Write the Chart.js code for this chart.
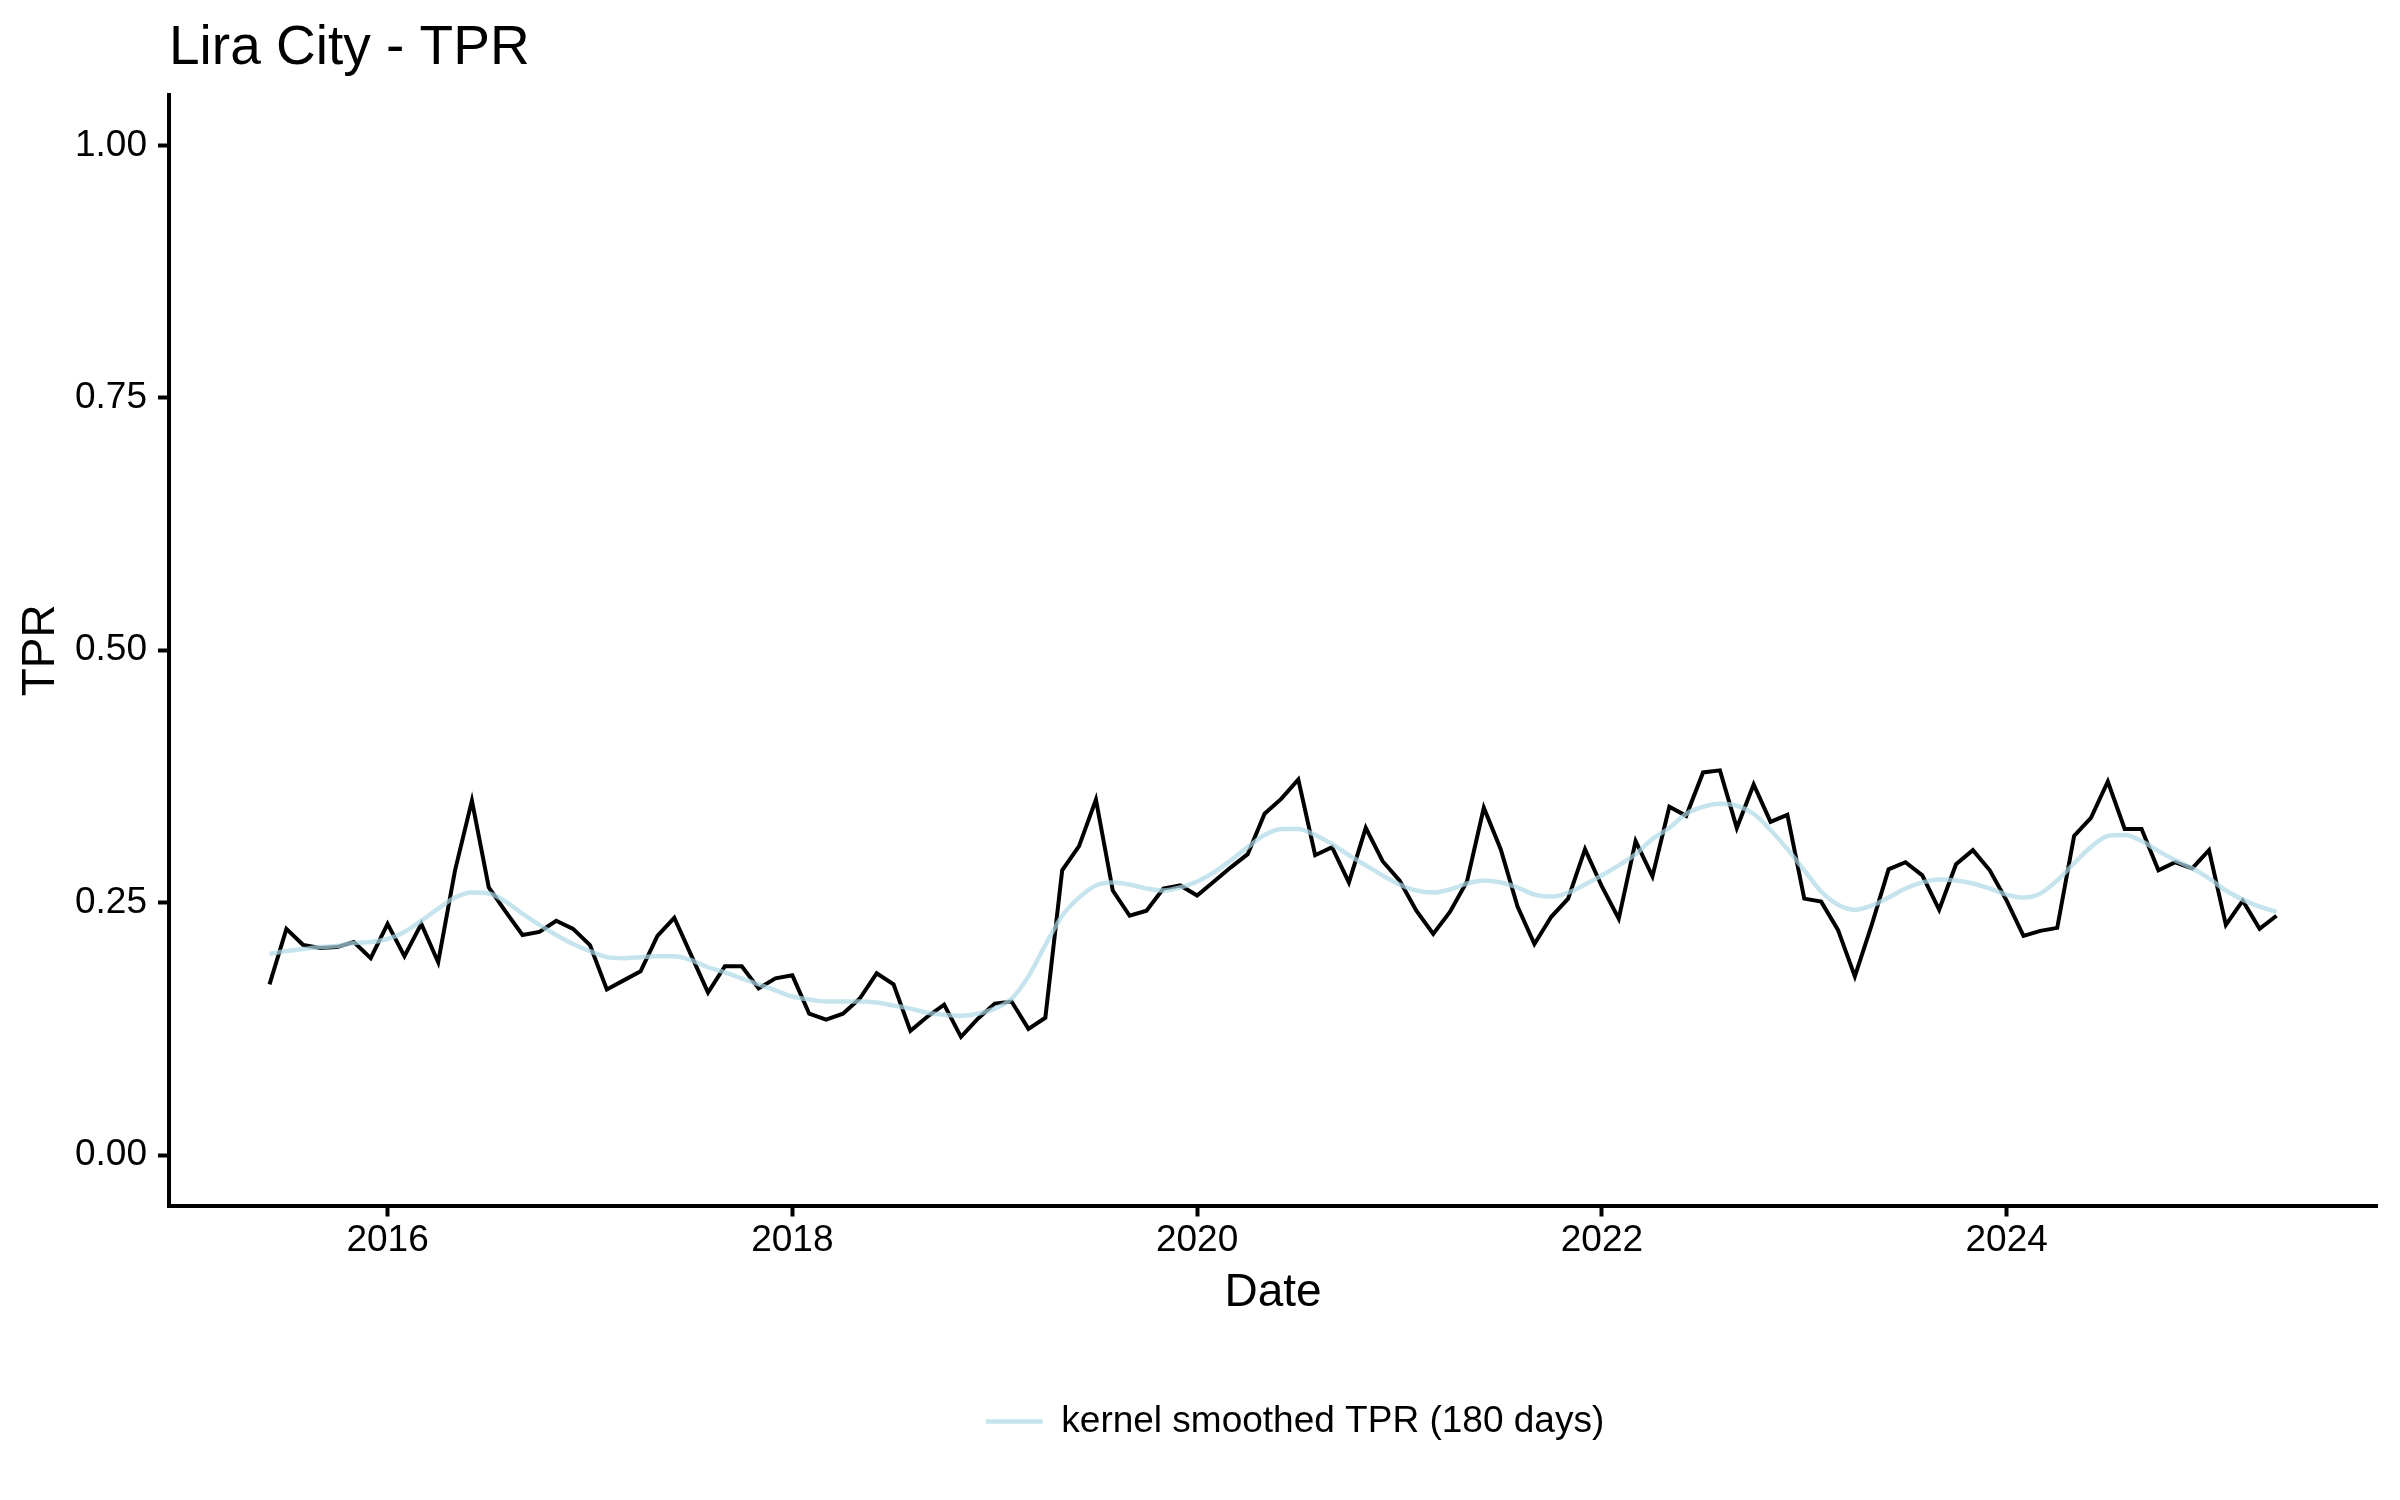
<!DOCTYPE html>
<html>
<head>
<meta charset="utf-8">
<title>Lira City - TPR</title>
<script src="https://cdn.jsdelivr.net/npm/chart.js@4.4.1/dist/chart.umd.min.js"></script>
<style>
  html, body { margin: 0; padding: 0; background: #fff; }
  #wrap { width: 2400px; height: 1500px; }
</style>
</head>
<body>
<div id="wrap"><canvas id="tprChart" width="2400" height="1500"></canvas></div>
<script>
// monthly series, first month June 2015
const startYear = 2015;
const startMonth = 6;

// monthly TPR (black line)
const tprMonthly = [
  0.169, 0.224, 0.208, 0.205, 0.206, 0.211, 0.195,
  0.229, 0.197, 0.229, 0.191, 0.282, 0.351, 0.265, 0.241, 0.218, 0.221, 0.232, 0.224,
  0.208, 0.164, 0.173, 0.182, 0.217, 0.235, 0.198, 0.161, 0.187, 0.187, 0.165, 0.175,
  0.178, 0.140, 0.134, 0.140, 0.155, 0.180, 0.169, 0.123, 0.137, 0.149, 0.117, 0.135,
  0.150, 0.152, 0.125, 0.136, 0.282, 0.306, 0.352, 0.262, 0.237, 0.242, 0.264, 0.267,
  0.257, 0.271, 0.285, 0.298, 0.338, 0.353, 0.372, 0.297, 0.305, 0.270, 0.324, 0.291,
  0.272, 0.242, 0.219, 0.241, 0.271, 0.344, 0.303, 0.246, 0.209, 0.236, 0.254, 0.303,
  0.266, 0.234, 0.311, 0.276, 0.345, 0.336, 0.379, 0.381, 0.324, 0.367, 0.330, 0.337,
  0.254, 0.251, 0.223, 0.177, 0.228, 0.283, 0.290, 0.277, 0.243, 0.288, 0.302, 0.282,
  0.252, 0.217, 0.222, 0.225, 0.316, 0.334, 0.370, 0.323, 0.323, 0.282, 0.290, 0.284,
  0.302, 0.228, 0.252, 0.224, 0.237
];

// kernel smoothed TPR (180 days), read at the same months
const tprSmoothed = [
  0.199, 0.202, 0.204, 0.206, 0.207, 0.210, 0.211,
  0.214, 0.221, 0.232, 0.244, 0.255, 0.260, 0.259, 0.251, 0.239, 0.228, 0.218, 0.209,
  0.202, 0.196, 0.195, 0.196, 0.197, 0.197, 0.193, 0.186, 0.181, 0.175, 0.169, 0.163,
  0.157, 0.154, 0.152, 0.152, 0.152, 0.151, 0.148, 0.145, 0.141, 0.139, 0.138, 0.140,
  0.145, 0.155, 0.177, 0.208, 0.237, 0.255, 0.267, 0.270, 0.268, 0.264, 0.262, 0.265,
  0.271, 0.280, 0.292, 0.305, 0.317, 0.323, 0.323, 0.317, 0.308, 0.297, 0.287, 0.277,
  0.268, 0.262, 0.260, 0.263, 0.269, 0.272, 0.270, 0.265, 0.258, 0.256, 0.260, 0.268,
  0.277, 0.287, 0.298, 0.313, 0.324, 0.338, 0.345, 0.348, 0.346, 0.338, 0.322, 0.303,
  0.282, 0.261, 0.248, 0.243, 0.247, 0.255, 0.264, 0.270, 0.273, 0.272, 0.269, 0.264,
  0.258, 0.255, 0.259, 0.272, 0.289, 0.305, 0.316, 0.317, 0.311, 0.301, 0.292, 0.284,
  0.274, 0.262, 0.253, 0.246, 0.241
];

const yearTicks = [2016, 2018, 2020, 2022, 2024];
const tprTicks = [0, 0.25, 0.5, 0.75, 1];
const xMin = 2014.92, xMax = 2025.83;
const yMin = -0.05, yMax = 1.05;

// month index -> decimal year
function monthToYear(i) {
  const m = startMonth - 1 + i;
  return startYear + Math.floor(m / 12) + (m % 12) / 12;
}

const rawPoints = tprMonthly.map((v, i) => ({ x: monthToYear(i), y: v }));
const smoothPoints = tprSmoothed.map((v, i) => ({ x: monthToYear(i), y: v }));

const FONT = "'Liberation Sans', Arial, sans-serif";
Chart.defaults.font.family = FONT;
Chart.defaults.color = '#000';

// ggplot puts the legend a little right of the panel centre
const legendShift = {
  id: 'legendShift',
  afterLayout(chart) {
    chart.legend.left += 22;
    chart.legend.right += 22;
  }
};

new Chart(document.getElementById('tprChart'), {
  type: 'line',
  data: {
    datasets: [{
      label: 'kernel smoothed TPR (180 days)',
      data: smoothPoints,
      borderColor: 'rgba(173, 216, 230, 0.7)',
      borderWidth: 4.5,
      pointRadius: 0,
      cubicInterpolationMode: 'monotone',
      fill: false
    }, {
      label: 'TPR',
      data: rawPoints,
      borderColor: '#000',
      borderWidth: 4,
      pointRadius: 0,
      tension: 0,
      fill: false
    }]
  },
  plugins: [legendShift],
  options: {
    responsive: false,
    devicePixelRatio: 1,
    animation: false,
    layout: { padding: { left: 18, right: 23, top: 0, bottom: 50 } },
    scales: {
      x: {
        type: 'linear',
        min: xMin,
        max: xMax,
        afterBuildTicks: (scale) => { scale.ticks = yearTicks.map(v => ({ value: v })); },
        ticks: {
          font: { size: 37, lineHeight: 1 },
          padding: 6,
          maxRotation: 0,
          callback: (v) => String(v)
        },
        grid: {
          drawOnChartArea: false,
          drawTicks: true,
          tickLength: 11,
          tickWidth: 4,
          tickColor: '#000'
        },
        border: { display: true, color: '#000', width: 4 },
        title: {
          display: true,
          text: 'Date',
          font: { size: 46, lineHeight: 1 },
          padding: { top: 4.5, bottom: 77 }
        }
      },
      y: {
        type: 'linear',
        min: yMin,
        max: yMax,
        afterBuildTicks: (scale) => { scale.ticks = tprTicks.map(v => ({ value: v })); },
        ticks: {
          font: { size: 37 },
          padding: 11,
          callback: (v) => v.toFixed(2)
        },
        grid: {
          drawOnChartArea: false,
          drawTicks: true,
          tickLength: 11,
          tickWidth: 4,
          tickColor: '#000'
        },
        border: { display: true, color: '#000', width: 4 },
        title: {
          display: true,
          text: 'TPR',
          font: { size: 46, lineHeight: 1 },
          padding: { top: 0, bottom: 0 }
        }
      }
    },
    plugins: {
      title: {
        display: true,
        text: 'Lira City - TPR',
        align: 'start',
        fullSize: false,
        font: { size: 55, weight: 'normal', lineHeight: 1.2 },
        padding: { top: 16, bottom: 13 }
      },
      legend: {
        position: 'bottom',
        fullSize: false,
        labels: {
          filter: (item) => item.datasetIndex === 0,
          usePointStyle: true,
          pointStyle: 'line',
          pointStyleWidth: 57,
          font: { size: 37 },
          padding: 10
        }
      },
      tooltip: { enabled: false }
    }
  }
});
</script>
</body>
</html>
